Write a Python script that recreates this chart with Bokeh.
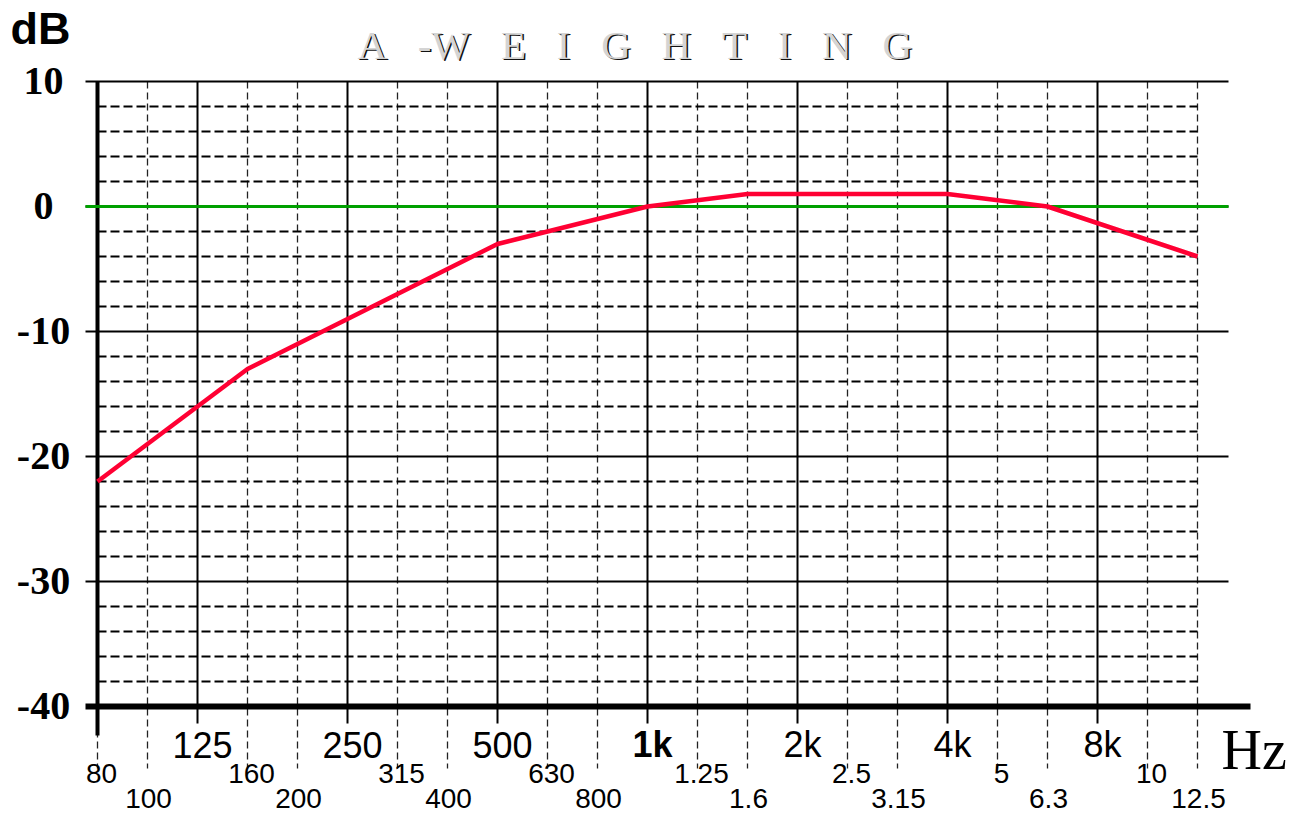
from bokeh.plotting import figure
from bokeh.models import Range1d
from bokeh.embed import file_html
from bokeh.resources import INLINE
from bokeh.core.properties import value

# ---------------- data ----------------
bands = ["80", "100", "125", "160", "200", "250", "315", "400", "500", "630", "800",
         "1k", "1.25k", "1.6k", "2k", "2.5k", "3.15k", "4k", "5k", "6.3k", "8k", "10k", "12.5k"]
octave_bands = ["125", "250", "500", "1k", "2k", "4k", "8k"]
row1_labels = ["125", "250", "500", "1k", "2k", "4k", "8k"]
bold_labels = ["1k"]
row2_bands = ["80", "160", "315", "630", "1.25k", "2.5k", "5k", "10k"]
row2_labels = ["80", "160", "315", "630", "1.25", "2.5", "5", "10"]
row3_bands = ["100", "200", "400", "800", "1.6k", "3.15k", "6.3k", "12.5k"]
row3_labels = ["100", "200", "400", "800", "1.6", "3.15", "6.3", "12.5"]
curve_bands = ["80", "160", "500", "1k", "1.6k", "4k", "6.3k", "12.5k"]
curve_db = [-22, -13, -3, 0, 1, 1, 0, -4]
y_major = [10, 0, -10, -20, -30, -40]
y_minor = [8, 6, 4, 2, -2, -4, -6, -8, -12, -14, -16, -18, -22, -24, -26, -28,
           -32, -34, -36, -38]
title_words = ["A", "-W", "E", "I", "G", "H", "T", "I", "N", "G"]
title_text = "\u00a0\u00a0\u00a0".join(title_words)

# ---------------- geometry ----------------
W, H = 1304, 814
PX0, PXS = 97, 50.0      # pixel of first band, pixels per band
PY0, PYS = 206, 12.5     # pixel of 0 dB, pixels per dB


def X(px):
    return (px - PX0) / PXS


def Y(py):
    return (PY0 - py) / PYS


idx = {b: i for i, b in enumerate(bands)}

p = figure(width=W, height=H, output_backend="svg", toolbar_location=None,
           x_range=Range1d(X(0), X(W)), y_range=Range1d(Y(H), Y(0)),
           min_border=0, outline_line_color=None)
p.axis.visible = False
p.grid.visible = False
p.background_fill_color = "white"
p.border_fill_color = "white"

last = len(bands) - 1
major_idx = [idx[b] for b in octave_bands]
minor_idx = [i for i in range(len(bands)) if i not in major_idx]

# dashed verticals
p.segment(x0=minor_idx, y0=[10] * len(minor_idx), x1=minor_idx, y1=[Y(768)] * len(minor_idx),
          line_color="#222222", line_width=1.3, line_dash="7 4")
# dashed horizontals
p.segment(x0=[0] * len(y_minor), y0=y_minor, x1=[last] * len(y_minor), y1=y_minor,
          line_color="black", line_width=2, line_dash="9 4")
# solid verticals
p.segment(x0=major_idx, y0=[10] * len(major_idx), x1=major_idx, y1=[Y(723)] * len(major_idx),
          line_color="black", line_width=2)
# solid horizontals
hs = [v for v in y_major if v != -40]
p.segment(x0=[X(85)] * len(hs), y0=hs, x1=[X(1228)] * len(hs), y1=hs,
          line_color="black", line_width=2)
# left axis
p.segment(x0=[0], y0=[10], x1=[0], y1=[Y(735)], line_color="black", line_width=4)
# bottom axis
p.segment(x0=[X(85)], y0=[-40], x1=[X(1250)], y1=[-40], line_color="black", line_width=6)
# zero reference (green)
p.segment(x0=[X(85)], y0=[0], x1=[X(1228)], y1=[0], line_color="#00a000", line_width=3)
# A-weighting curve
p.line([idx[b] for b in curve_bands], curve_db, line_color="#ff0033", line_width=4.5)

# ---------------- texts (visual centres, middle baseline) ----------------
common = dict(text_baseline="middle", text_color="black")

# y tick labels
p.text(x=[X(43)] * len(y_major), y=[v + 1 / PYS for v in y_major],
       text=[str(v) for v in y_major], text_font=value("Liberation Serif"),
       text_font_style="bold", text_font_size="40px", text_align="center", **common)

# x labels row 1
r1 = [(idx[b], l) for b, l in zip(octave_bands, row1_labels) if l not in bold_labels]
r1b = [(idx[b], l) for b, l in zip(octave_bands, row1_labels) if l in bold_labels]
p.text(x=[i + 5 / PXS for i, _ in r1], y=[Y(744)] * len(r1), text=[l for _, l in r1],
       text_font=value("Liberation Sans"), text_font_size="36px", text_align="center", **common)
p.text(x=[i + 5 / PXS for i, _ in r1b], y=[Y(744)] * len(r1b), text=[l for _, l in r1b],
       text_font=value("Liberation Sans"), text_font_style="bold", text_font_size="36px",
       text_align="center", **common)
# row 2
p.text(x=[idx[b] + 4 / PXS for b in row2_bands], y=[Y(772.5)] * len(row2_bands), text=row2_labels,
       text_font=value("Liberation Sans"), text_font_size="28px", text_align="center", **common)
# row 3
p.text(x=[idx[b] + 1 / PXS for b in row3_bands], y=[Y(798)] * len(row3_bands), text=row3_labels,
       text_font=value("Liberation Sans"), text_font_size="28px", text_align="center", **common)

# units
p.text(x=[X(10)], y=[Y(28)], text=["dB"], text_font=value("Liberation Sans"),
       text_font_style="bold", text_font_size="45px", text_align="left", **common)
p.text(x=[X(1221)], y=[Y(749)], text=["Hz"], text_font=value("Liberation Serif"),
       text_font_size="56px", text_align="left", **common)

# embossed title
p.text(x=[X(358.5)], y=[Y(45)], text=[title_text], text_font=value("Liberation Serif"),
       text_font_size="41px", text_align="left", text_baseline="middle", text_color="#111111")
p.text(x=[X(357)], y=[Y(44)], text=[title_text], text_font=value("Liberation Serif"),
       text_font_size="41px", text_align="left", text_baseline="middle", text_color="#d4d4d4")

open("out.html", "w").write(file_html(p, INLINE))
